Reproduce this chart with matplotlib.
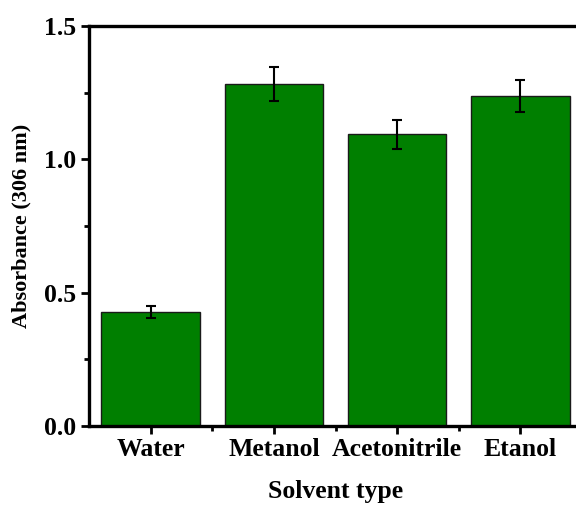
import matplotlib
matplotlib.use("Agg")
import matplotlib.pyplot as plt
from matplotlib.ticker import MultipleLocator, FixedLocator

categories = ["Water", "Metanol", "Acetonitrile", "Etanol"]
absorbance = [0.427, 1.283, 1.094, 1.237]
errors = [0.022, 0.063, 0.055, 0.060]
yticks = [0, 0.5, 1.0, 1.5]
ytick_labels = ["0.0", "0.5", "1.0", "1.5"]

plt.rcParams['font.family'] = ['Liberation Serif', 'DejaVu Serif']
plt.rcParams['font.weight'] = 'bold'

fig = plt.figure(figsize=(5.76, 5.05), dpi=100)
ax = fig.add_axes([89/576, 1-426/505, (582-89)/576, 400/505])

x = list(range(1, len(categories) + 1))
ax.bar(x, absorbance, width=0.8, color='#007f00', edgecolor='#1a1a1a', linewidth=1.0,
       yerr=errors, error_kw=dict(ecolor='black', elinewidth=1.5, capsize=3.5, capthick=1.5), zorder=2)

ax.set_xlim(0.5, 4.5)
ax.set_ylim(0, 1.5)
ax.set_xticks(x)
ax.set_xticklabels(categories, fontsize=18.5, fontweight='bold')
ax.xaxis.set_minor_locator(FixedLocator([1.5, 2.5, 3.5]))
ax.set_yticks(yticks)
ax.set_yticklabels(ytick_labels, fontsize=18.5, fontweight='bold')
ax.yaxis.set_minor_locator(MultipleLocator(0.25))

for s in ax.spines.values():
    s.set_linewidth(2.4)
ax.tick_params(which='major', direction='out', length=6, width=2, pad=3)
ax.tick_params(which='minor', direction='out', length=3.5, width=2)

ax.set_ylabel("Absorbance (306 nm)", fontsize=16, fontweight='bold', labelpad=9)
ax.set_xlabel("Solvent type", fontsize=18.5, fontweight='bold', labelpad=13)

fig.savefig("out.png", dpi=100)
